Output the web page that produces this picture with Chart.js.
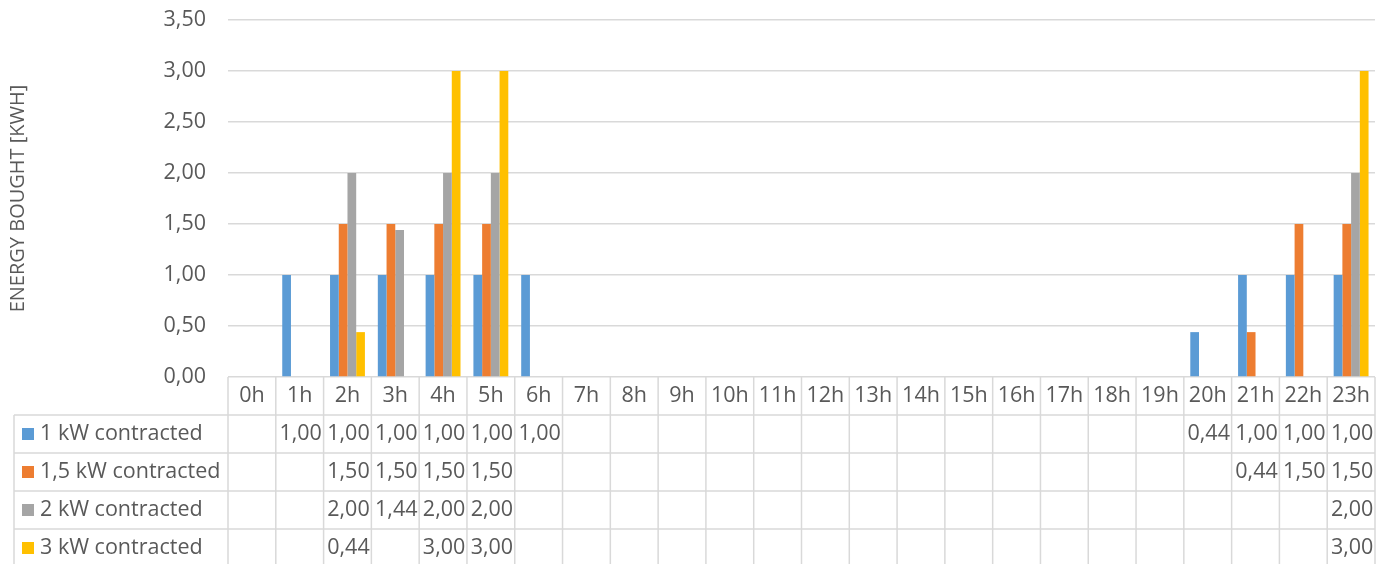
<!DOCTYPE html>
<html>
<head>
<meta charset="utf-8">
<script src="https://cdn.jsdelivr.net/npm/chart.js@4.4.0/dist/chart.umd.min.js"></script>
<style>
  html, body { margin: 0; padding: 0; background: #fff; }
  #wrap { width: 1386px; height: 564px; }
</style>
</head>
<body>
<div id="wrap"><canvas id="energyChart" width="1386" height="564"></canvas></div>
<script>
const hours = ['0h', '1h', '2h', '3h', '4h', '5h', '6h', '7h', '8h', '9h', '10h', '11h',
  '12h', '13h', '14h', '15h', '16h', '17h', '18h', '19h', '20h', '21h', '22h', '23h'];

const contracted1 = [null, 1.00, 1.00, 1.00, 1.00, 1.00, 1.00, null, null, null, null, null,
  null, null, null, null, null, null, null, null, 0.44, 1.00, 1.00, 1.00];
const contracted15 = [null, null, 1.50, 1.50, 1.50, 1.50, null, null, null, null, null, null,
  null, null, null, null, null, null, null, null, null, 0.44, 1.50, 1.50];
const contracted2 = [null, null, 2.00, 1.44, 2.00, 2.00, null, null, null, null, null, null,
  null, null, null, null, null, null, null, null, null, null, null, 2.00];
const contracted3 = [null, null, 0.44, null, 3.00, 3.00, null, null, null, null, null, null,
  null, null, null, null, null, null, null, null, null, null, null, 3.00];

const seriesNames = ['1 kW contracted', '1,5 kW contracted', '2 kW contracted', '3 kW contracted'];
const seriesColors = ['#5B9BD5', '#ED7D31', '#A5A5A5', '#FFC000'];

const FONT = '"Open Sans", sans-serif';
const TEXT = '#595959';
const LINE = '#d9d9d9';
const SIZE = 21.5;

function fmt(v) {
  return v.toFixed(2).replace('.', ',');
}

// data table under the plot, columns follow the x scale
const dataTable = {
  id: 'dataTable',
  afterDraw(chart) {
    const ctx = chart.ctx;
    const area = chart.chartArea;
    const xs = chart.scales.x;
    const cw = (area.right - area.left) / hours.length;
    const rowH = 38;
    const tableLeft = 14;
    const headTop = area.bottom;
    const bodyTop = headTop + rowH;
    const bottom = chart.height + 2;

    ctx.save();
    ctx.strokeStyle = LINE;
    ctx.lineWidth = 1.5;

    // vertical cell borders
    for (let i = 0; i <= hours.length; i++) {
      const x = area.left + i * cw;
      ctx.beginPath();
      ctx.moveTo(x, headTop);
      ctx.lineTo(x, bottom);
      ctx.stroke();
    }
    ctx.beginPath();
    ctx.moveTo(tableLeft, bodyTop);
    ctx.lineTo(tableLeft, bottom);
    ctx.stroke();

    // horizontal row borders
    for (let r = 0; r < seriesNames.length; r++) {
      const y = bodyTop + r * rowH;
      ctx.beginPath();
      ctx.moveTo(tableLeft, y);
      ctx.lineTo(area.right, y);
      ctx.stroke();
    }

    ctx.fillStyle = TEXT;
    ctx.font = SIZE + 'px ' + FONT;
    ctx.textBaseline = 'middle';
    ctx.textAlign = 'center';

    // hour labels
    hours.forEach((h, i) => {
      ctx.fillText(h, xs.getPixelForValue(i), headTop + rowH / 2);
    });

    // series rows: legend key + values
    chart.data.datasets.forEach((ds, r) => {
      const cy = bodyTop + r * rowH + rowH / 2;
      ctx.fillStyle = ds.backgroundColor;
      ctx.fillRect(22, cy - 6, 12, 12);
      ctx.fillStyle = TEXT;
      ctx.textAlign = 'left';
      ctx.fillText(ds.label, 40, cy);
      ctx.textAlign = 'center';
      ds.data.forEach((v, i) => {
        if (v !== null) ctx.fillText(fmt(v), xs.getPixelForValue(i) + 1, cy);
      });
    });
    ctx.restore();
  }
};

const datasets = [contracted1, contracted15, contracted2, contracted3].map((d, i) => ({
  label: seriesNames[i],
  data: d,
  backgroundColor: seriesColors[i],
  borderWidth: 0,
  categoryPercentage: 0.73,
  barPercentage: 1
}));

const energyChart = new Chart(document.getElementById('energyChart').getContext('2d'), {
  type: 'bar',
  data: { labels: hours, datasets },
  options: {
    responsive: false,
    animation: false,
    layout: { padding: { left: 0, right: 11, top: 20, bottom: 187 } },
    plugins: {
      legend: { display: false },
      tooltip: { enabled: false }
    },
    scales: {
      x: { display: false },
      y: {
        min: 0,
        max: 3.5,
        afterFit(scale) {
          scale.width = 228;
          scale.paddingTop = 0;
          scale.paddingBottom = 0;
        },
        ticks: {
          stepSize: 0.5,
          padding: 22,
          color: TEXT,
          font: { family: FONT, size: SIZE },
          callback: v => fmt(v)
        },
        grid: { color: LINE, lineWidth: 1.5, drawTicks: false },
        border: { display: false },
        title: {
          display: true,
          text: 'ENERGY BOUGHT [KWH]',
          color: TEXT,
          font: { family: FONT, size: 20 },
          padding: { top: 6, bottom: 0 }
        }
      }
    }
  },
  plugins: [dataTable]
});
</script>
</body>
</html>
